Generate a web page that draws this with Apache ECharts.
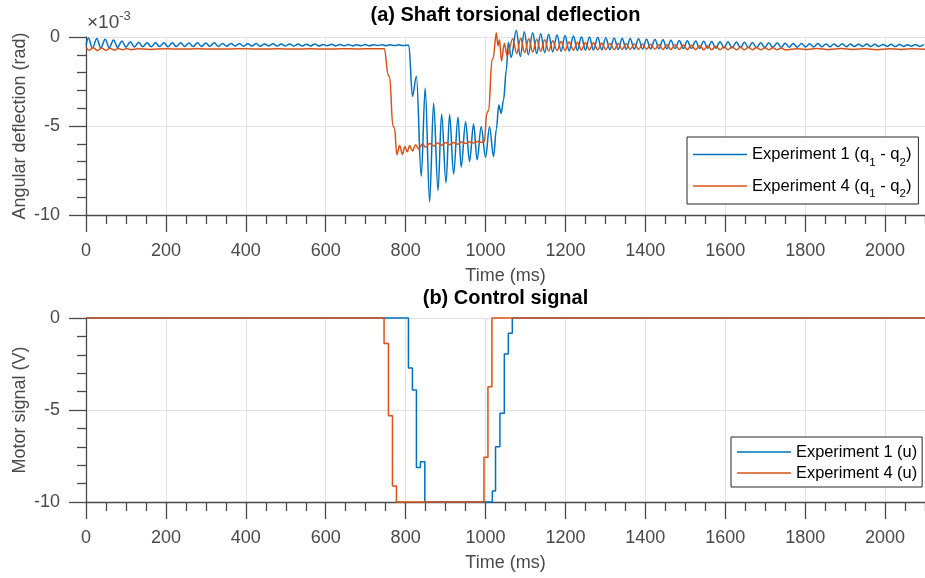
<!DOCTYPE html>
<html>
<head>
<meta charset="utf-8">
<title>Shaft torsional deflection / Control signal</title>
<script src="https://cdn.jsdelivr.net/npm/echarts@6/dist/echarts.min.js"></script>
<style>
  html, body { margin: 0; padding: 0; background: #fff; }
  #chart { width: 925px; height: 578px; }
</style>
</head>
<body>
<div id="chart"></div>
<script>
// [time (ms), angular deflection (x1e-3 rad)]
var exp1Deflection = [
  [0, -0.45], [6, -0.05], [16, -0.64], [27, -0.08], [37, -0.62], [48, -0.12], [58, -0.60], [69, -0.17], [79, -0.58],
  [90, -0.22], [100, -0.57], [111, -0.27], [121, -0.56], [132, -0.30], [142, -0.55], [153, -0.32], [163, -0.55],
  [174, -0.33], [184, -0.54], [195, -0.32], [205, -0.55], [216, -0.33], [226, -0.54], [237, -0.32], [247, -0.53],
  [258, -0.34], [268, -0.54], [279, -0.33], [289, -0.53], [300, -0.34], [310, -0.52], [321, -0.33], [331, -0.53],
  [342, -0.36], [352, -0.52], [363, -0.37], [373, -0.51], [384, -0.36], [394, -0.52], [405, -0.38], [415, -0.51],
  [426, -0.37], [436, -0.52], [447, -0.39], [457, -0.50], [468, -0.38], [478, -0.51], [489, -0.40], [499, -0.50],
  [510, -0.39], [520, -0.51], [531, -0.40], [541, -0.50], [552, -0.41], [562, -0.50], [573, -0.40], [583, -0.51],
  [594, -0.42], [604, -0.49], [615, -0.41], [625, -0.50], [636, -0.42], [646, -0.49], [657, -0.42], [667, -0.50],
  [678, -0.43], [688, -0.49], [699, -0.42], [709, -0.49], [720, -0.43], [730, -0.48], [741, -0.43], [751, -0.49],
  [762, -0.44], [772, -0.48], [783, -0.44], [793, -0.48], [808, -0.46],
  [817, -3.33], [827, -2.21], [839, -7.83], [849, -2.87], [860, -9.27], [870, -3.71], [881, -8.63], [890, -4.33],
  [901, -8.20], [910, -4.35], [920, -7.70], [931, -4.51], [939, -7.30], [950, -4.76], [960, -7.00], [970, -4.89],
  [979, -6.90], [989, -5.04], [1000, -6.76], [1010, -5.04], [1020, -6.72], [1027, -5.20], [1033, -3.82], [1039, -4.29],
  [1045, -3.54], [1052, -1.85], [1057, -0.30], [1064, -1.15],
  [1077, 0.38], [1087, -1.10], [1097, 0.30], [1107, -1.00], [1118, 0.24], [1128, -0.93], [1138, 0.19], [1148, -0.88],
  [1158, 0.15], [1168, -0.84], [1179, 0.11], [1189, -0.80], [1199, 0.08], [1209, -0.78], [1220, 0.05], [1230, -0.76],
  [1240, 0.02], [1250, -0.74], [1260, 0.00], [1270, -0.73], [1281, -0.02], [1291, -0.72], [1301, -0.04], [1311, -0.71],
  [1322, -0.05], [1332, -0.70], [1342, -0.07], [1352, -0.69], [1362, -0.08], [1372, -0.68], [1383, -0.10], [1393, -0.68],
  [1403, -0.12], [1413, -0.67], [1424, -0.14], [1434, -0.66], [1444, -0.16], [1454, -0.66], [1464, -0.18], [1474, -0.65],
  [1485, -0.19], [1495, -0.65], [1505, -0.21], [1515, -0.64], [1526, -0.22], [1536, -0.64], [1546, -0.24], [1556, -0.63],
  [1566, -0.25], [1576, -0.63], [1587, -0.26], [1597, -0.62], [1607, -0.27], [1617, -0.62], [1628, -0.28], [1638, -0.61],
  [1648, -0.30], [1658, -0.60], [1668, -0.31], [1678, -0.60], [1689, -0.32], [1699, -0.59], [1709, -0.33], [1719, -0.58],
  [1730, -0.34], [1740, -0.58], [1750, -0.35], [1760, -0.57], [1770, -0.36], [1780, -0.57], [1791, -0.37], [1801, -0.56],
  [1811, -0.38], [1821, -0.56], [1832, -0.37], [1842, -0.55], [1852, -0.39], [1862, -0.55], [1872, -0.40], [1882, -0.54],
  [1893, -0.38], [1903, -0.55], [1913, -0.40], [1923, -0.54], [1934, -0.41], [1944, -0.53], [1954, -0.40], [1964, -0.54],
  [1974, -0.41], [1984, -0.53], [1995, -0.42], [2005, -0.53], [2015, -0.41], [2025, -0.54], [2036, -0.42], [2046, -0.53],
  [2056, -0.43], [2066, -0.52], [2076, -0.42], [2086, -0.53], [2097, -0.43]
];

var exp4Deflection = [
  [0, -0.58], [8, -0.74], [18, -0.60], [29, -0.76], [39, -0.62], [50, -0.75], [60, -0.63], [71, -0.74], [81, -0.64],
  [92, -0.72], [102, -0.65], [113, -0.71], [130, -0.66], [160, -0.70], [200, -0.66], [240, -0.68], [280, -0.66],
  [320, -0.68], [360, -0.67], [400, -0.66], [440, -0.68], [480, -0.66], [520, -0.68], [560, -0.66], [600, -0.68],
  [640, -0.66], [680, -0.67], [720, -0.66], [747, -0.66],
  [756, -2.12], [760, -2.25], [768, -5.00], [772, -5.10], [778, -6.61], [785, -6.10], [792, -6.60], [798, -6.15],
  [804, -6.45], [810, -6.10], [817, -6.40], [825, -6.05], [833, -6.30], [842, -6.00], [850, -6.20], [860, -5.98],
  [870, -6.12], [880, -5.95], [890, -6.08], [900, -5.93], [910, -6.05], [920, -5.92], [930, -6.02], [940, -5.90],
  [950, -5.98], [960, -5.88], [970, -5.95], [980, -5.87], [990, -5.92], [997, -5.88],
  [1003, -4.29], [1008, -4.10], [1016, -1.29], [1019, -1.20], [1027, 0.24], [1031, -0.50], [1035, -0.15], [1040, -1.35],
  [1047, -0.35], [1054, -1.05], [1068, -0.10], [1078, -0.92], [1088, -0.07], [1098, -0.88], [1108, -0.10], [1118, -0.84],
  [1128, -0.12], [1138, -0.80], [1148, -0.16], [1158, -0.78], [1168, -0.21], [1179, -0.76], [1189, -0.25], [1199, -0.75],
  [1209, -0.28], [1220, -0.74], [1230, -0.30], [1240, -0.73], [1250, -0.32], [1260, -0.72], [1270, -0.33], [1281, -0.72],
  [1291, -0.35], [1301, -0.71], [1311, -0.36], [1322, -0.71], [1332, -0.37], [1342, -0.70], [1352, -0.38], [1362, -0.70],
  [1372, -0.39], [1383, -0.70], [1393, -0.40], [1403, -0.69], [1413, -0.41], [1424, -0.69], [1434, -0.42], [1444, -0.70],
  [1454, -0.43], [1464, -0.70], [1474, -0.44], [1485, -0.70], [1495, -0.45], [1505, -0.71], [1515, -0.47], [1526, -0.71],
  [1536, -0.49], [1546, -0.72], [1556, -0.50], [1566, -0.72], [1576, -0.52], [1587, -0.72], [1597, -0.53], [1607, -0.72],
  [1617, -0.55], [1628, -0.72], [1638, -0.56], [1648, -0.72], [1658, -0.58], [1668, -0.72], [1678, -0.59], [1689, -0.72],
  [1699, -0.60], [1709, -0.72], [1719, -0.61], [1730, -0.72], [1740, -0.62], [1750, -0.72], [1780, -0.66], [1800, -0.70],
  [1830, -0.64], [1860, -0.70], [1890, -0.65], [1920, -0.70], [1950, -0.66], [1980, -0.71], [2010, -0.66], [2040, -0.70],
  [2070, -0.66], [2100, -0.69]
];

// [time (ms), motor signal (V)] -- value held until the next point
var exp1Signal = [
  [0, 0], [807, -2.72], [817, -3.91], [827, -8.12], [837, -7.81], [848, -10], [1017, -9.4], [1025, -7.0],
  [1036, -5.18], [1047, -1.96], [1057, -0.83], [1067, 0], [2100, 0]
];
var exp4Signal = [
  [0, 0], [746, -1.38], [757, -5.31], [767, -9.13], [777, -10], [996, -7.57], [1006, -3.73], [1016, 0], [2100, 0]
];

var deflectionNames = ['Experiment 1 (q1 - q2)', 'Experiment 4 (q1 - q2)'];
var deflectionLegend = ['Experiment 1 (q{s|1} - q{s|2})', 'Experiment 4 (q{s|1} - q{s|2})'];
var signalNames = ['Experiment 1 (u)', 'Experiment 4 (u)'];
var panelTitles = ['(a) Shaft torsional deflection', '(b) Control signal'];
var yNames = ['Angular deflection (rad)', 'Motor signal (V)'];

var FONT = '"Liberation Sans", Arial, Helvetica, sans-serif';
var AXIS = '#4a4a4a';
var GRID = '#e2e2e2';
var BLUE = '#0072BD';
var ORANGE = '#D95319';

function xAxisFor (idx) {
  return {
    type: 'value',
    gridIndex: idx,
    min: 0,
    max: 2200, // 轴延伸到画布外, 2100 处于右边界
    interval: 200,
    name: 'Time (ms)',
    nameLocation: 'middle',
    nameGap: 52,
    nameMoveOverlap: false,
    nameTextStyle: {fontFamily: FONT, fontSize: 18, color: AXIS, padding: [0, 40, 0, 0]},
    axisLine: {show: true, onZero: false, lineStyle: {color: AXIS, width: 1.3}},
    axisTick: {show: true, inside: false, length: 17, lineStyle: {color: AXIS, width: 1.3}},
    minorTick: {show: true, splitNumber: 4, length: 9, lineStyle: {color: AXIS, width: 1.3}},
    axisLabel: {
      margin: 27, fontFamily: FONT, fontSize: 18, color: AXIS,
      formatter: function (v) { return String(v) } // 不要千位分隔符
    },
    splitLine: {show: true, lineStyle: {color: GRID, width: 1}},
    minorSplitLine: {show: false}
  }
}

function yAxisFor (idx) {
  return {
    type: 'value',
    gridIndex: idx,
    min: -10,
    max: 0,
    interval: 5,
    name: yNames[idx],
    nameLocation: 'middle',
    nameRotate: 90,
    nameGap: 57,
    nameMoveOverlap: false,
    nameTextStyle: {fontFamily: FONT, fontSize: 18, color: AXIS},
    axisLine: {show: true, onZero: false, lineStyle: {color: AXIS, width: 1.3}},
    axisTick: {show: true, inside: false, length: 17, lineStyle: {color: AXIS, width: 1.3}},
    minorTick: {show: true, splitNumber: 5, length: 9, lineStyle: {color: AXIS, width: 1.3}},
    axisLabel: {margin: 26, fontFamily: FONT, fontSize: 18, color: AXIS},
    splitLine: {show: true, lineStyle: {color: GRID, width: 1}}
  }
}

function lineSeries (name, data, color, idx, step) {
  var s = {
    name: name,
    type: 'line',
    xAxisIndex: idx,
    yAxisIndex: idx,
    data: data,
    step: step || false,
    symbol: 'none',
    clip: false,
    lineStyle: {color: color, width: 1.5},
    itemStyle: {color: color}
  }
  if (!step) {
    s.smooth = 0.35 // 振荡看起来更圆滑
    s.smoothMonotone = 'x'
  }
  return s
}

// 图例只画一条细线, 不要圆点
function legendItems (names) {
  return names.map(function (n) { return {name: n, icon: 'rect'} })
}

var legendBase = {
  orient: 'vertical',
  align: 'left',
  itemWidth: 54,
  itemHeight: 1.5,
  selectedMode: false,
  backgroundColor: '#fff',
  borderColor: '#262626',
  borderWidth: 1,
  borderRadius: 0
}

var chart = echarts.init(document.getElementById('chart'), null, {renderer: 'canvas'})

chart.setOption({
  animation: false,
  backgroundColor: '#fff',
  grid: [
    {left: 86, right: -40, top: 37, height: 178, containLabel: false, outerBoundsMode: 'none'},
    {left: 86, right: -40, top: 318, height: 184, containLabel: false, outerBoundsMode: 'none'}
  ],
  xAxis: [xAxisFor(0), xAxisFor(1)],
  yAxis: [yAxisFor(0), yAxisFor(1)],
  legend: [
    Object.assign({}, legendBase, {
      left: 687,
      top: 137,
      padding: [9, 7, 4, 6],
      itemGap: 9,
      data: legendItems(deflectionNames),
      formatter: function (name) {
        return deflectionLegend[deflectionNames.indexOf(name)]
      },
      textStyle: {
        fontFamily: FONT,
        fontSize: 16.6,
        color: '#000',
        rich: {
          s: {fontFamily: FONT, fontSize: 11.5, color: '#000', padding: [16, 0, 0, 0]}
        }
      }
    }),
    Object.assign({}, legendBase, {
      left: 731,
      top: 437,
      padding: [7, 5, 6, 6],
      itemGap: 5,
      data: legendItems(signalNames),
      textStyle: {fontFamily: FONT, fontSize: 16.4, color: '#000'}
    })
  ],
  graphic: [
    { // 标题
      type: 'text', x: 505.5, y: 15,
      style: {text: panelTitles[0], font: 'bold 20px ' + FONT, fill: '#000', align: 'center', verticalAlign: 'middle'}
    },
    {
      type: 'text', x: 505.5, y: 298,
      style: {text: panelTitles[1], font: 'bold 20px ' + FONT, fill: '#000', align: 'center', verticalAlign: 'middle'}
    },
    { // 指数标注
      type: 'text', x: 87, y: 21,
      style: {
        text: '{a|×10}{b|-3}',
        fill: AXIS,
        verticalAlign: 'middle',
        rich: {
          a: {fontFamily: FONT, fontSize: 19, color: AXIS, lineHeight: 22, verticalAlign: 'bottom'},
          b: {fontFamily: FONT, fontSize: 13, color: AXIS, lineHeight: 22, verticalAlign: 'top'}
        }
      }
    }
  ],
  series: [
    lineSeries(deflectionNames[0], exp1Deflection, BLUE, 0),
    lineSeries(deflectionNames[1], exp4Deflection, ORANGE, 0),
    lineSeries(signalNames[0], exp1Signal, BLUE, 1, 'end'),
    lineSeries(signalNames[1], exp4Signal, ORANGE, 1, 'end')
  ]
})
</script>
</body>
</html>
